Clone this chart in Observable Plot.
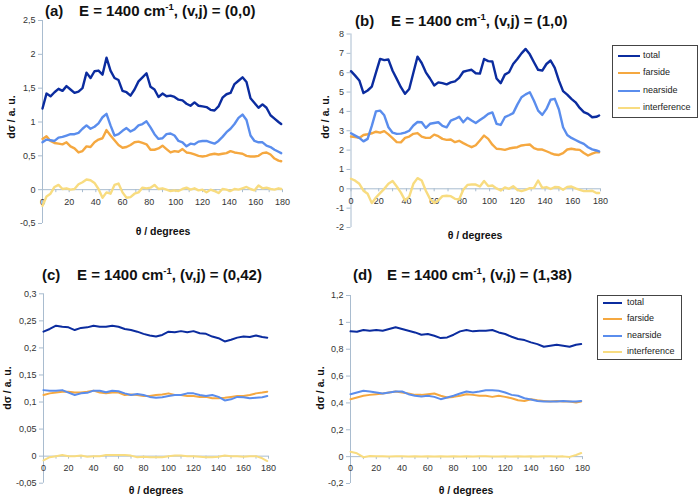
<!DOCTYPE html>
<html><head><meta charset="utf-8">
<script src="https://cdn.jsdelivr.net/npm/d3@7"></script>
<script src="https://cdn.jsdelivr.net/npm/@observablehq/plot@0.6"></script>
<style>
body{margin:0;background:#fff;}
#root{position:relative;width:698px;height:499px;overflow:hidden;background:#fff;}
.pnl{position:absolute;}
#overlay{position:absolute;left:0;top:0;}
</style></head><body><div id="root"></div>
<script>
const FONT = '"Liberation Sans", Arial, Helvetica, sans-serif';
const AXIS = "#a9bccf";
const TICKCOLOR = "#333";
const TICKFS = 9;

const seriesNames = ["total", "farside", "nearside", "interference"];
const seriesColors = ["#0b2c9f", "#f5a840", "#5a8ded", "#f8dc80"];

const xTicks = [0, 20, 40, 60, 80, 100, 120, 140, 160, 180];
const xMinorTicks = [0, 10, 20, 30, 40, 50, 60, 70, 80, 90, 100, 110, 120, 130, 140, 150, 160, 170, 180];

// ---- panels (a) and (b): theta grid
const thetaAB = [0,3,6,9,12,15,18,21,24,27,30,33,36,39,42,45,48,51,54,57,60,63,66,69,72,75,78,81,84,87,90,93,96,99,102,105,108,111,114,117,120,123,126,129,132,135,138,141,144,147,150,153,156,159,162,165,168,171,174,177,179];

// (a) E = 1400 cm-1, (v,j) = (0,0)
const aTotal = [1.20,1.42,1.38,1.44,1.49,1.46,1.53,1.48,1.43,1.45, 1.50,1.73,1.65,1.75,1.76,1.70,1.95,1.76,1.65,1.62, 1.46,1.44,1.39,1.48,1.60,1.66,1.72,1.52,1.48,1.37, 1.42,1.38,1.39,1.37,1.33,1.32,1.27,1.24,1.29,1.24, 1.23,1.22,1.18,1.17,1.23,1.36,1.41,1.43,1.56,1.61, 1.66,1.59,1.35,1.28,1.21,1.26,1.21,1.10,1.05,1.00, 0.97];
const aFarside = [0.75,0.79,0.72,0.69,0.68,0.67,0.70,0.64,0.61,0.55, 0.57,0.64,0.63,0.70,0.74,0.76,0.88,0.80,0.73,0.66, 0.62,0.63,0.66,0.70,0.71,0.69,0.67,0.59,0.59,0.61, 0.65,0.60,0.55,0.57,0.56,0.60,0.55,0.54,0.52,0.50, 0.49,0.50,0.52,0.53,0.52,0.53,0.54,0.57,0.55,0.54, 0.53,0.50,0.49,0.49,0.50,0.54,0.55,0.52,0.46,0.43, 0.42];
const aNearside = [0.70,0.74,0.73,0.72,0.77,0.78,0.80,0.82,0.82,0.84, 0.90,0.95,0.90,0.93,0.98,1.07,1.12,0.95,0.80,0.82, 0.87,0.91,0.86,0.89,0.95,0.97,1.01,0.92,0.82,0.75, 0.76,0.82,0.83,0.80,0.72,0.70,0.64,0.68,0.67,0.71, 0.72,0.72,0.70,0.68,0.72,0.78,0.85,0.90,0.97,1.06, 1.11,1.03,0.80,0.72,0.70,0.70,0.65,0.63,0.59,0.56, 0.54];
const aInterference = [-0.24,-0.10,-0.06,0.04,0.07,0.01,0.02,0.00,0.01,0.08, 0.11,0.15,0.14,0.10,0.01,-0.12,-0.04,-0.06,0.07,0.09, -0.04,-0.12,-0.11,-0.06,-0.04,0.03,0.02,0.03,0.07,0.01, 0.02,0.00,-0.02,-0.01,-0.02,0.01,0.03,0.00,0.02,-0.01, 0.00,-0.04,0.00,-0.02,-0.05,0.01,0.00,-0.02,0.01,0.00, 0.02,0.04,0.01,-0.01,0.06,0.02,0.03,0.01,0.00,0.02, 0.01];
const aYTicks = [-0.5, 0, 0.5, 1, 1.5, 2, 2.5];

// (b) E = 1400 cm-1, (v,j) = (1,0)
const bTotal = [6.08,5.85,5.60,4.95,5.08,5.28,6.00,6.71,6.65,6.68, 6.10,5.68,5.25,4.91,5.16,6.00,6.83,6.50,6.02,5.70, 5.34,5.50,5.46,5.40,5.50,5.55,5.73,6.05,6.11,6.15, 5.97,5.95,6.71,6.60,6.58,5.70,5.46,5.90,6.02,6.45, 6.71,7.00,7.23,6.95,6.54,6.15,6.11,6.45,6.63,6.25, 5.59,5.05,4.87,4.65,4.47,4.18,3.96,3.87,3.70,3.72, 3.79];
const bFarside = [2.70,2.67,2.63,2.78,2.82,2.87,2.95,2.90,2.98,2.81, 2.62,2.41,2.40,2.63,2.70,2.84,2.88,2.70,2.63,2.63, 2.80,2.72,2.58,2.53,2.55,2.41,2.48,2.36,2.25,2.15, 2.25,2.50,2.75,2.58,2.28,2.07,2.05,2.01,2.08,2.12, 2.15,2.24,2.27,2.29,2.10,2.03,2.03,1.94,1.85,1.77, 1.75,1.84,2.03,2.07,2.03,2.01,1.85,1.72,1.82,1.89, 1.89];
const bNearside = [2.87,2.75,2.63,2.45,2.58,3.25,4.00,4.04,3.80,3.18, 2.90,2.84,2.85,2.90,3.00,3.27,3.45,3.44,3.15,3.36, 3.40,3.44,3.25,3.18,3.52,3.61,3.72,3.44,3.67,3.53, 3.40,3.55,3.70,3.87,3.95,3.36,3.30,3.70,3.80,3.91, 4.35,4.73,4.88,4.99,4.55,4.04,3.82,4.13,4.60,4.65, 4.10,3.18,2.78,2.63,2.52,2.41,2.32,2.15,2.04,1.98, 1.93];
const bInterference = [0.52,0.42,0.26,-0.10,-0.26,-0.74,-0.45,-0.22,0.00,0.26, 0.40,0.12,-0.20,-0.60,-0.40,0.26,0.55,0.43,-0.10,-0.52, -0.74,-0.60,-0.38,-0.36,-0.38,-0.52,-0.55,-0.05,0.20,0.22, 0.22,0.12,0.40,0.14,0.17,0.02,-0.09,0.07,0.00,0.13, -0.05,-0.12,-0.05,0.03,0.05,0.43,0.05,0.09,-0.01,0.09, 0.08,-0.05,0.10,0.12,0.02,-0.05,-0.12,-0.12,-0.10,-0.22, -0.22];
const bYTicks = [-2, -1, 0, 1, 2, 3, 4, 5, 6, 7, 8];

// ---- panels (c) and (d): theta grid
const thetaCD = [0,5,10,15,20,25,30,35,40,45,50,55,60,65,70,75,80,85,90,95,100,105,110,115,120,125,130,135,140,145,150,155,160,165,170,175,179];

// (c) E = 1400 cm-1, (v,j) = (0,42)
const cTotal = [0.230,0.235,0.241,0.239,0.238,0.233,0.237,0.238,0.241,0.239,0.239,0.241,0.239,0.235,0.233,0.230,0.226,0.223,0.221,0.224,0.230,0.229,0.231,0.229,0.231,0.227,0.226,0.221,0.218,0.212,0.215,0.219,0.221,0.220,0.223,0.220,0.219];
const cFarside = [0.113,0.116,0.1175,0.119,0.119,0.1175,0.1175,0.119,0.121,0.1175,0.116,0.1175,0.1175,0.113,0.114,0.113,0.111,0.111,0.113,0.114,0.116,0.113,0.113,0.111,0.111,0.1095,0.1095,0.107,0.107,0.108,0.1095,0.111,0.111,0.113,0.116,0.1175,0.119];
const cNearside = [0.122,0.121,0.121,0.122,0.1175,0.113,0.116,0.117,0.121,0.121,0.118,0.121,0.120,0.116,0.113,0.115,0.113,0.1095,0.108,0.109,0.111,0.113,0.113,0.116,0.116,0.113,0.111,0.113,0.1095,0.103,0.105,0.1095,0.109,0.107,0.108,0.109,0.111];
const cInterference = [-0.008,-0.002,0,0.002,0,0,0.001,-0.001,0,0,0.002,0.002,0.002,0.002,0.001,-0.002,-0.001,-0.002,-0.002,-0.002,0,0.001,0.001,0,0,-0.001,-0.002,-0.002,-0.001,0.001,0,0,-0.001,0,0,-0.004,-0.009];
const cYTicks = [-0.05, 0, 0.05, 0.1, 0.15, 0.2, 0.25, 0.3];

// (d) E = 1400 cm-1, (v,j) = (1,38)
const dTotal = [0.933,0.930,0.943,0.938,0.943,0.938,0.950,0.963,0.950,0.938,0.925,0.908,0.913,0.900,0.883,0.888,0.908,0.933,0.943,0.933,0.938,0.938,0.943,0.925,0.913,0.893,0.876,0.868,0.851,0.838,0.818,0.826,0.833,0.826,0.818,0.833,0.838];
const dFarside = [0.428,0.440,0.453,0.460,0.465,0.470,0.478,0.485,0.478,0.470,0.460,0.460,0.465,0.470,0.453,0.440,0.445,0.453,0.465,0.460,0.453,0.453,0.445,0.453,0.445,0.435,0.420,0.415,0.428,0.420,0.415,0.410,0.415,0.410,0.410,0.403,0.410];
const dNearside = [0.465,0.478,0.490,0.485,0.478,0.470,0.478,0.485,0.485,0.465,0.453,0.448,0.453,0.445,0.428,0.440,0.453,0.470,0.485,0.478,0.485,0.495,0.495,0.490,0.478,0.460,0.453,0.435,0.425,0.415,0.410,0.410,0.410,0.415,0.410,0.410,0.415];
const dInterference = [0.037,0.025,-0.004,0.004,0.002,0.003,0.001,0.002,0.003,0.001,0.002,0.001,0.002,0.001,0.002,0.001,0.002,0.001,0.002,0.001,0.002,0.002,0.001,0.001,0.002,0.001,0.002,0.001,0.002,0.001,0.002,0.002,0.001,0.002,-0.002,0.012,0.027];
const dYTicks = [-0.2, 0, 0.2, 0.4, 0.6, 0.8, 1, 1.2];

const fmt = d => String(d).replace(".", ",");

function makePanel(cfg) {
  const rows = [];
  seriesNames.forEach((name, k) => cfg.values[k].forEach((v, i) => rows.push({theta: cfg.theta[i], value: v, series: name})));
  const svg = Plot.plot({
    width: cfg.width, height: cfg.height,
    marginLeft: cfg.mL, marginRight: cfg.mR, marginTop: cfg.mT, marginBottom: cfg.mB,
    style: {background: "transparent", fontFamily: FONT, overflow: "visible"},
    x: {domain: [0, 180], axis: null},
    y: {domain: cfg.yDomain, axis: null},
    color: {domain: seriesNames, range: seriesColors},
    marks: [
      Plot.ruleX([0], {stroke: AXIS, strokeWidth: 1}),
      Plot.ruleY(cfg.yTicks, {y: d => d, x1: 0, x2: 0, insetLeft: -4, stroke: AXIS}),
      Plot.text(cfg.yTicks, {x: 0, y: d => d, dx: -7, textAnchor: "end", text: fmt, fontSize: TICKFS, fill: TICKCOLOR}),
      Plot.ruleY([0], {x1: 0, x2: 180, stroke: AXIS}),
      Plot.ruleX(xMinorTicks, {x: d => d, y1: 0, y2: 0, insetBottom: -3, stroke: AXIS}),
      Plot.text(xTicks, {x: d => d, y: 0, dy: cfg.xdy, text: d => String(d), fontSize: TICKFS, fill: TICKCOLOR}),
      Plot.line(rows, {x: "theta", y: "value", z: "series", stroke: "series", strokeWidth: cfg.sw, strokeLinejoin: "round"})
    ]
  });
  const div = document.createElement("div");
  div.className = "pnl";
  div.style.left = cfg.left + "px";
  div.style.top = cfg.top + "px";
  div.appendChild(svg);
  document.getElementById("root").appendChild(div);
}

makePanel({left: 0, top: 0, width: 300, height: 240, mL: 42, mR: 18, mT: 20, mB: 17,
  yDomain: [-0.5, 2.5], yTicks: aYTicks, theta: thetaAB, values: [aTotal, aFarside, aNearside, aInterference], sw: 2.4, xdy: 12});
makePanel({left: 300, top: 0, width: 310, height: 240, mL: 50.5, mR: 10, mT: 33.5, mB: 13,
  yDomain: [-2, 8], yTicks: bYTicks, theta: thetaAB, values: [bTotal, bFarside, bNearside, bInterference], sw: 2.4, xdy: 12});
makePanel({left: 0, top: 240, width: 300, height: 259, mL: 43, mR: 32, mT: 53.3, mB: 16.3,
  yDomain: [-0.05, 0.3], yTicks: cYTicks, theta: thetaCD, values: [cTotal, cFarside, cNearside, cInterference], sw: 2, xdy: 12});
makePanel({left: 310, top: 240, width: 300, height: 259, mL: 40, mR: 28, mT: 55, mB: 16,
  yDomain: [-0.2, 1.2], yTicks: dYTicks, theta: thetaCD, values: [dTotal, dFarside, dNearside, dInterference], sw: 2, xdy: 11});

// ---- overlay: titles, axis labels, legends
const titles = [
  {label: "(a)", vj: "(0,0)", x: 45, ex: 79, y: 16},
  {label: "(b)", vj: "(1,0)", x: 355, ex: 391, y: 26},
  {label: "(c)", vj: "(0,42)", x: 42, ex: 77, y: 280},
  {label: "(d)", vj: "(1,38)", x: 353, ex: 387, y: 280}
];
const xLabels = [{x: 163, y: 232}, {x: 475, y: 236}, {x: 156, y: 491}, {x: 466, y: 491}];
const yLabels = [{x: 12, y: 117}, {x: 326, y: 117}, {x: 8, y: 388}, {x: 321, y: 388}];
const legends = [
  {x: 612, y: 45, w: 85, h: 72, rows: [56, 73, 91, 108], lx1: 618, lx2: 640, tx: 643},
  {x: 597, y: 295, w: 84, h: 64, rows: [303, 319, 336, 352], lx1: 603, lx2: 622, tx: 627}
];

const ov = d3.select("#root").append("svg").attr("id", "overlay").attr("width", 698).attr("height", 499)
  .style("font-family", FONT);

titles.forEach(t => {
  const tx = ov.append("text").attr("y", t.y).attr("font-size", 15).attr("font-weight", "bold").attr("fill", "#111");
  tx.append("tspan").attr("x", t.x).text(t.label);
  tx.append("tspan").attr("x", t.ex).text("E = 1400 cm");
  tx.append("tspan").attr("font-size", 9.5).attr("dy", -6).text("-1");
  tx.append("tspan").attr("dy", 6).text(", (v,j) = " + t.vj);
});

xLabels.forEach(p => {
  ov.append("text").attr("x", p.x).attr("y", p.y).attr("text-anchor", "middle").attr("dominant-baseline", "middle")
    .attr("font-size", 10.5).attr("font-weight", "bold").attr("fill", "#111").text("θ / degrees");
});
yLabels.forEach(p => {
  ov.append("text").attr("transform", `translate(${p.x},${p.y}) rotate(-90)`).attr("text-anchor", "middle")
    .attr("dominant-baseline", "middle").attr("font-size", 10.5).attr("font-weight", "bold").attr("fill", "#111")
    .text("dσ / a. u.");
});

legends.forEach(L => {
  ov.append("rect").attr("x", L.x + 0.5).attr("y", L.y + 0.5).attr("width", L.w).attr("height", L.h)
    .attr("fill", "#fff").attr("stroke", "#444").attr("stroke-width", 1);
  seriesNames.forEach((name, i) => {
    ov.append("line").attr("x1", L.lx1).attr("x2", L.lx2).attr("y1", L.rows[i]).attr("y2", L.rows[i])
      .attr("stroke", seriesColors[i]).attr("stroke-width", 2);
    ov.append("text").attr("x", L.tx).attr("y", L.rows[i]).attr("dominant-baseline", "middle")
      .attr("font-size", 9).attr("fill", "#222").text(name);
  });
});
</script>
</body></html>
